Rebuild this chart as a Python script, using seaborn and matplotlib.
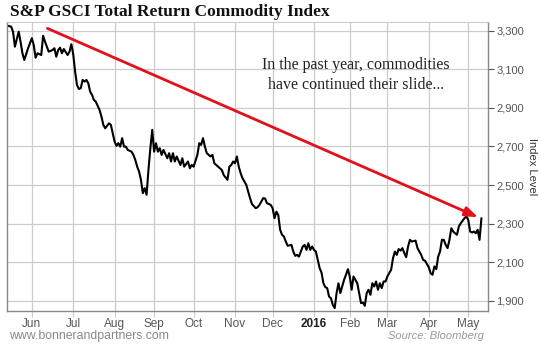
import numpy as np
import pandas as pd
import seaborn as sns
import matplotlib.pyplot as plt

# Trading sessions counted from 2015-05-12 (NYSE calendar)
start_date = "2015-05-12"
holidays = ["2015-05-25", "2015-07-03", "2015-09-07", "2015-11-26", "2015-12-25",
            "2016-01-01", "2016-01-18", "2016-02-15", "2016-03-25"]

session = [0, 2, 3, 4, 6, 7, 8, 9, 11, 12, 13, 14, 15, 16, 18, 19, 20, 22, 24, 25,
           26, 27, 28, 29, 30, 32, 33, 34, 35, 36, 37, 38, 39, 40, 41, 42, 43, 44, 45, 46,
           47, 49, 50, 51, 52, 54, 55, 56, 57, 58, 59, 60, 61, 62, 63, 64, 66, 67, 68, 69,
           70, 71, 72, 73, 74, 75, 76, 77, 78, 79, 80, 81, 82, 83, 85, 86, 87, 88, 89, 90,
           92, 93, 94, 96, 97, 98, 99, 101, 102, 103, 104, 105, 106, 108, 109, 110, 111, 113, 114, 115,
           117, 118, 119, 120, 121, 122, 123, 124, 125, 127, 128, 129, 130, 132, 133, 134, 136, 137, 138, 140,
           141, 142, 143, 144, 145, 146, 147, 148, 149, 151, 152, 153, 154, 155, 157, 158, 159, 160, 161, 162,
           163, 164, 165, 166, 167, 168, 169, 170, 171, 172, 173, 174, 175, 176, 177, 178, 179, 180, 181, 182,
           183, 184, 185, 186, 187, 188, 189, 190, 191, 192, 193, 194, 195, 196, 197, 198, 199, 200, 201, 202,
           203, 204, 205, 206, 207, 208, 209, 210, 211, 212, 213, 214, 215, 217, 218, 219, 220, 221, 222, 224,
           225, 226, 227, 228, 229, 230, 231, 232, 233, 234, 235, 236, 237, 238, 239, 240, 241, 243, 244, 245,
           246, 247, 248, 249, 250, 251, 252]
index_level = [3326, 3321, 3295, 3217, 3295, 3243, 3183, 3148, 3209, 3235, 3261, 3226, 3160, 3183, 3174, 3274, 3243, 3191, 3200, 3209,
               3165, 3200, 3212, 3183, 3205, 3174, 3191, 3230, 3178, 3088, 3019, 2998, 3002, 3045, 3036, 3045, 3028, 2984, 2967, 2941,
               2932, 2889, 2855, 2812, 2794, 2820, 2812, 2769, 2725, 2703, 2717, 2699, 2743, 2699, 2699, 2682, 2673, 2656, 2630, 2595,
               2570, 2527, 2458, 2484, 2449, 2580, 2690, 2786, 2673, 2717, 2673, 2691, 2656, 2682, 2639, 2665, 2622, 2665, 2622, 2648,
               2604, 2639, 2595, 2622, 2587, 2604, 2595, 2656, 2717, 2708, 2743, 2699, 2665, 2648, 2656, 2613, 2604, 2587, 2578, 2552,
               2527, 2595, 2604, 2622, 2613, 2648, 2595, 2561, 2535, 2501, 2466, 2432, 2402, 2380, 2385, 2397, 2432, 2430, 2406, 2397,
               2380, 2328, 2362, 2345, 2268, 2242, 2233, 2207, 2185, 2190, 2155, 2133, 2138, 2129, 2181, 2190, 2164, 2198, 2164, 2181,
               2164, 2155, 2112, 2069, 2046, 1991, 1971, 1966, 1922, 1913, 1879, 1862, 1940, 1991, 1940, 1974, 2009, 2035, 2064, 2026,
               1957, 2026, 2009, 1991, 1940, 1888, 1891, 1874, 1940, 1957, 1931, 1991, 1974, 2000, 1957, 1991, 1966, 2000, 2000, 2026,
               2043, 2061, 2121, 2155, 2138, 2168, 2160, 2173, 2147, 2126, 2181, 2216, 2207, 2212, 2173, 2155, 2138, 2112, 2108, 2074,
               2043, 2035, 2078, 2064, 2129, 2155, 2216, 2216, 2190, 2173, 2216, 2276, 2259, 2250, 2242, 2285, 2302, 2328, 2337, 2319,
               2259, 2254, 2259, 2250, 2268, 2216, 2328]

month_starts = ["2015-06-01", "2015-07-01", "2015-08-03", "2015-09-01", "2015-10-01", "2015-11-02",
                "2015-12-01", "2016-01-04", "2016-02-01", "2016-03-01", "2016-04-01", "2016-05-02"]
month_labels = ["Jun", "Jul", "Aug", "Sep", "Oct", "Nov", "Dec", "2016", "Feb", "Mar", "Apr", "May"]
y_ticks = [1900, 2100, 2300, 2500, 2700, 2900, 3100, 3300]

# trend arrow (session, level)
arrow_start = (21.3, 3312)
arrow_end = (250.3, 2333)

df = pd.DataFrame({"session": session, "level": index_level})
month_pos = np.busday_count(start_date, month_starts, holidays=holidays)

sns.set_style("whitegrid")
plt.rcParams["font.family"] = ["Liberation Sans", "DejaVu Sans"]

fig = plt.figure(figsize=(5.39, 3.5), dpi=100)
ax = fig.add_axes([0.013, 0.1114, 0.8924, 0.8257])

sns.lineplot(data=df, x="session", y="level", color="black", linewidth=1.5, ax=ax)

ax.annotate("", xy=arrow_end, xytext=arrow_start,
            arrowprops=dict(arrowstyle="-|>,head_length=0.7,head_width=0.25",
                            color="#e3101c", lw=2, mutation_scale=11,
                            shrinkA=0, shrinkB=0))

ax.set_xlim(-0.2, 255.5)
ax.set_ylim(1847, 3345)

ax.set_xticks(month_pos)
ax.set_xticklabels(month_labels)
ax.set_yticks(y_ticks)
ax.set_yticklabels([f"{v:,}" for v in y_ticks])
ax.yaxis.tick_right()
ax.yaxis.set_label_position("right")
ax.tick_params(axis="y", colors="#555555", labelsize=8, length=4, width=0.8, pad=2,
               direction="out", right=True, left=False)
ax.tick_params(axis="x", colors="#555555", labelsize=8.5, length=4, width=0.8, pad=1,
               direction="out", bottom=True)
ax.tick_params(axis="x", color="#cccccc")
for lbl in ax.get_xticklabels():
    if lbl.get_text() == "2016":
        lbl.set_fontweight("bold")
        lbl.set_color("#222222")

ax.grid(True, color="#cccccc", linewidth=0.9)
ax.set_xlabel("")
ax.set_ylabel("Index Level", rotation=270, labelpad=9, fontsize=8, color="#333333")

for side in ["left", "bottom", "right"]:
    ax.spines[side].set_visible(True)
    ax.spines[side].set_color("#888888")
    ax.spines[side].set_linewidth(1.0)
ax.spines["top"].set_color("#cccccc")

ax.text(0.7256, 0.8166, "In the past year, commodities\nhave continued their slide...",
        transform=ax.transAxes, ha="center", va="center", fontsize=11.5,
        family="Liberation Serif", color="#222222", linespacing=1.3)

fig.text(0.019, 0.943, "S&P GSCI Total Return Commodity Index", fontsize=12.5,
         fontweight="bold", family="Liberation Serif", color="#111111", va="bottom")
fig.text(0.017, 0.031, "www.bonnerandpartners.com", fontsize=8.8, color="#888888")
fig.text(0.898, 0.031, "Source: Bloomberg", fontsize=8, color="#999999",
         style="italic", ha="right")

fig.savefig("out.png", dpi=100)
